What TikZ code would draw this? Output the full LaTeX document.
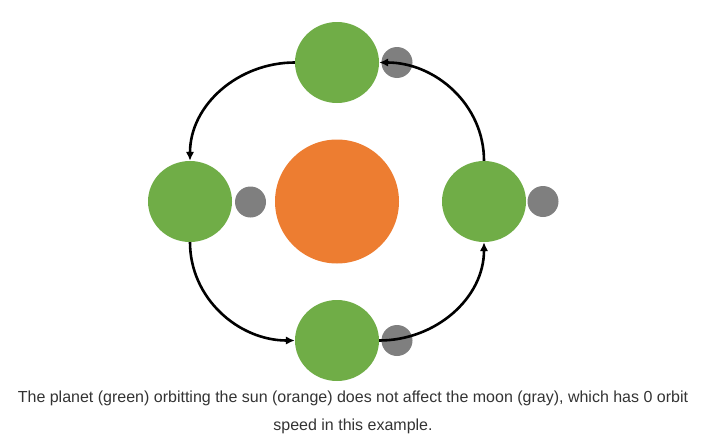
\documentclass[tikz,border=0pt]{standalone}
\usepackage{fontspec}
\setmainfont{Liberation Sans}
\usepackage{xcolor}
\usetikzlibrary{shapes.geometric,arrows.meta}
\definecolor{planet}{RGB}{112, 173, 71}
\definecolor{sun}{RGB}{237, 125, 49}
\definecolor{moon}{RGB}{127, 127, 127}
\definecolor{cap}{RGB}{51, 51, 51}

\begin{document}
\begin{tikzpicture}[x=1pt, y=-1pt,
    pl/.style={ellipse, fill=planet, minimum width=84pt, minimum height=81pt, inner sep=0pt},
    mn/.style={circle, fill=moon, minimum size=31pt, inner sep=0pt},
    orbit/.style={line width=2.6pt, -{Latex[length=9pt,width=8.5pt]}},
    caption/.style={anchor=base, text=cap, font=\fontsize{16}{18}\selectfont, inner sep=0pt}]
      \useasboundingbox (0, 0) rectangle (709, 447);
      \node[circle, fill=sun, minimum size=124pt, inner sep=0pt] (sun) at (337, 201.5) {};
      % planets
      \node[pl] (pTop) at (337, 62.5) {};
      \node[pl] (pLeft) at (190, 201.5) {};
      \node[pl] (pBottom) at (337, 340.5) {};
      \node[pl] (pRight) at (484, 201.5) {};
      % moons
      \node[mn] (mTop) at (397, 62.5) {};
      \node[mn] (mLeft) at (250.5, 202) {};
      \node[mn] (mBottom) at (397, 340.5) {};
      \node[mn] (mRight) at (543, 201.5) {};
      % orbit arrows
      \draw[orbit] (pTop.west) to[out=180, in=90] (pLeft.north);
      \draw[orbit] (pLeft.south) to[out=-90, in=180] (pBottom.west);
      \draw[orbit] (pBottom.east) to[out=0, in=-90] (pRight.south);
      \draw[orbit] (pRight.north) to[out=90, in=0] (pTop.east);
      \node[caption] (cap1) at (353, 402.5) {The planet (green) orbitting the sun (orange) does not affect the moon (gray), which has 0 orbit};
      \node[caption] (cap2) at (353, 430) {speed in this example.};
    \end{tikzpicture}
\end{document}
